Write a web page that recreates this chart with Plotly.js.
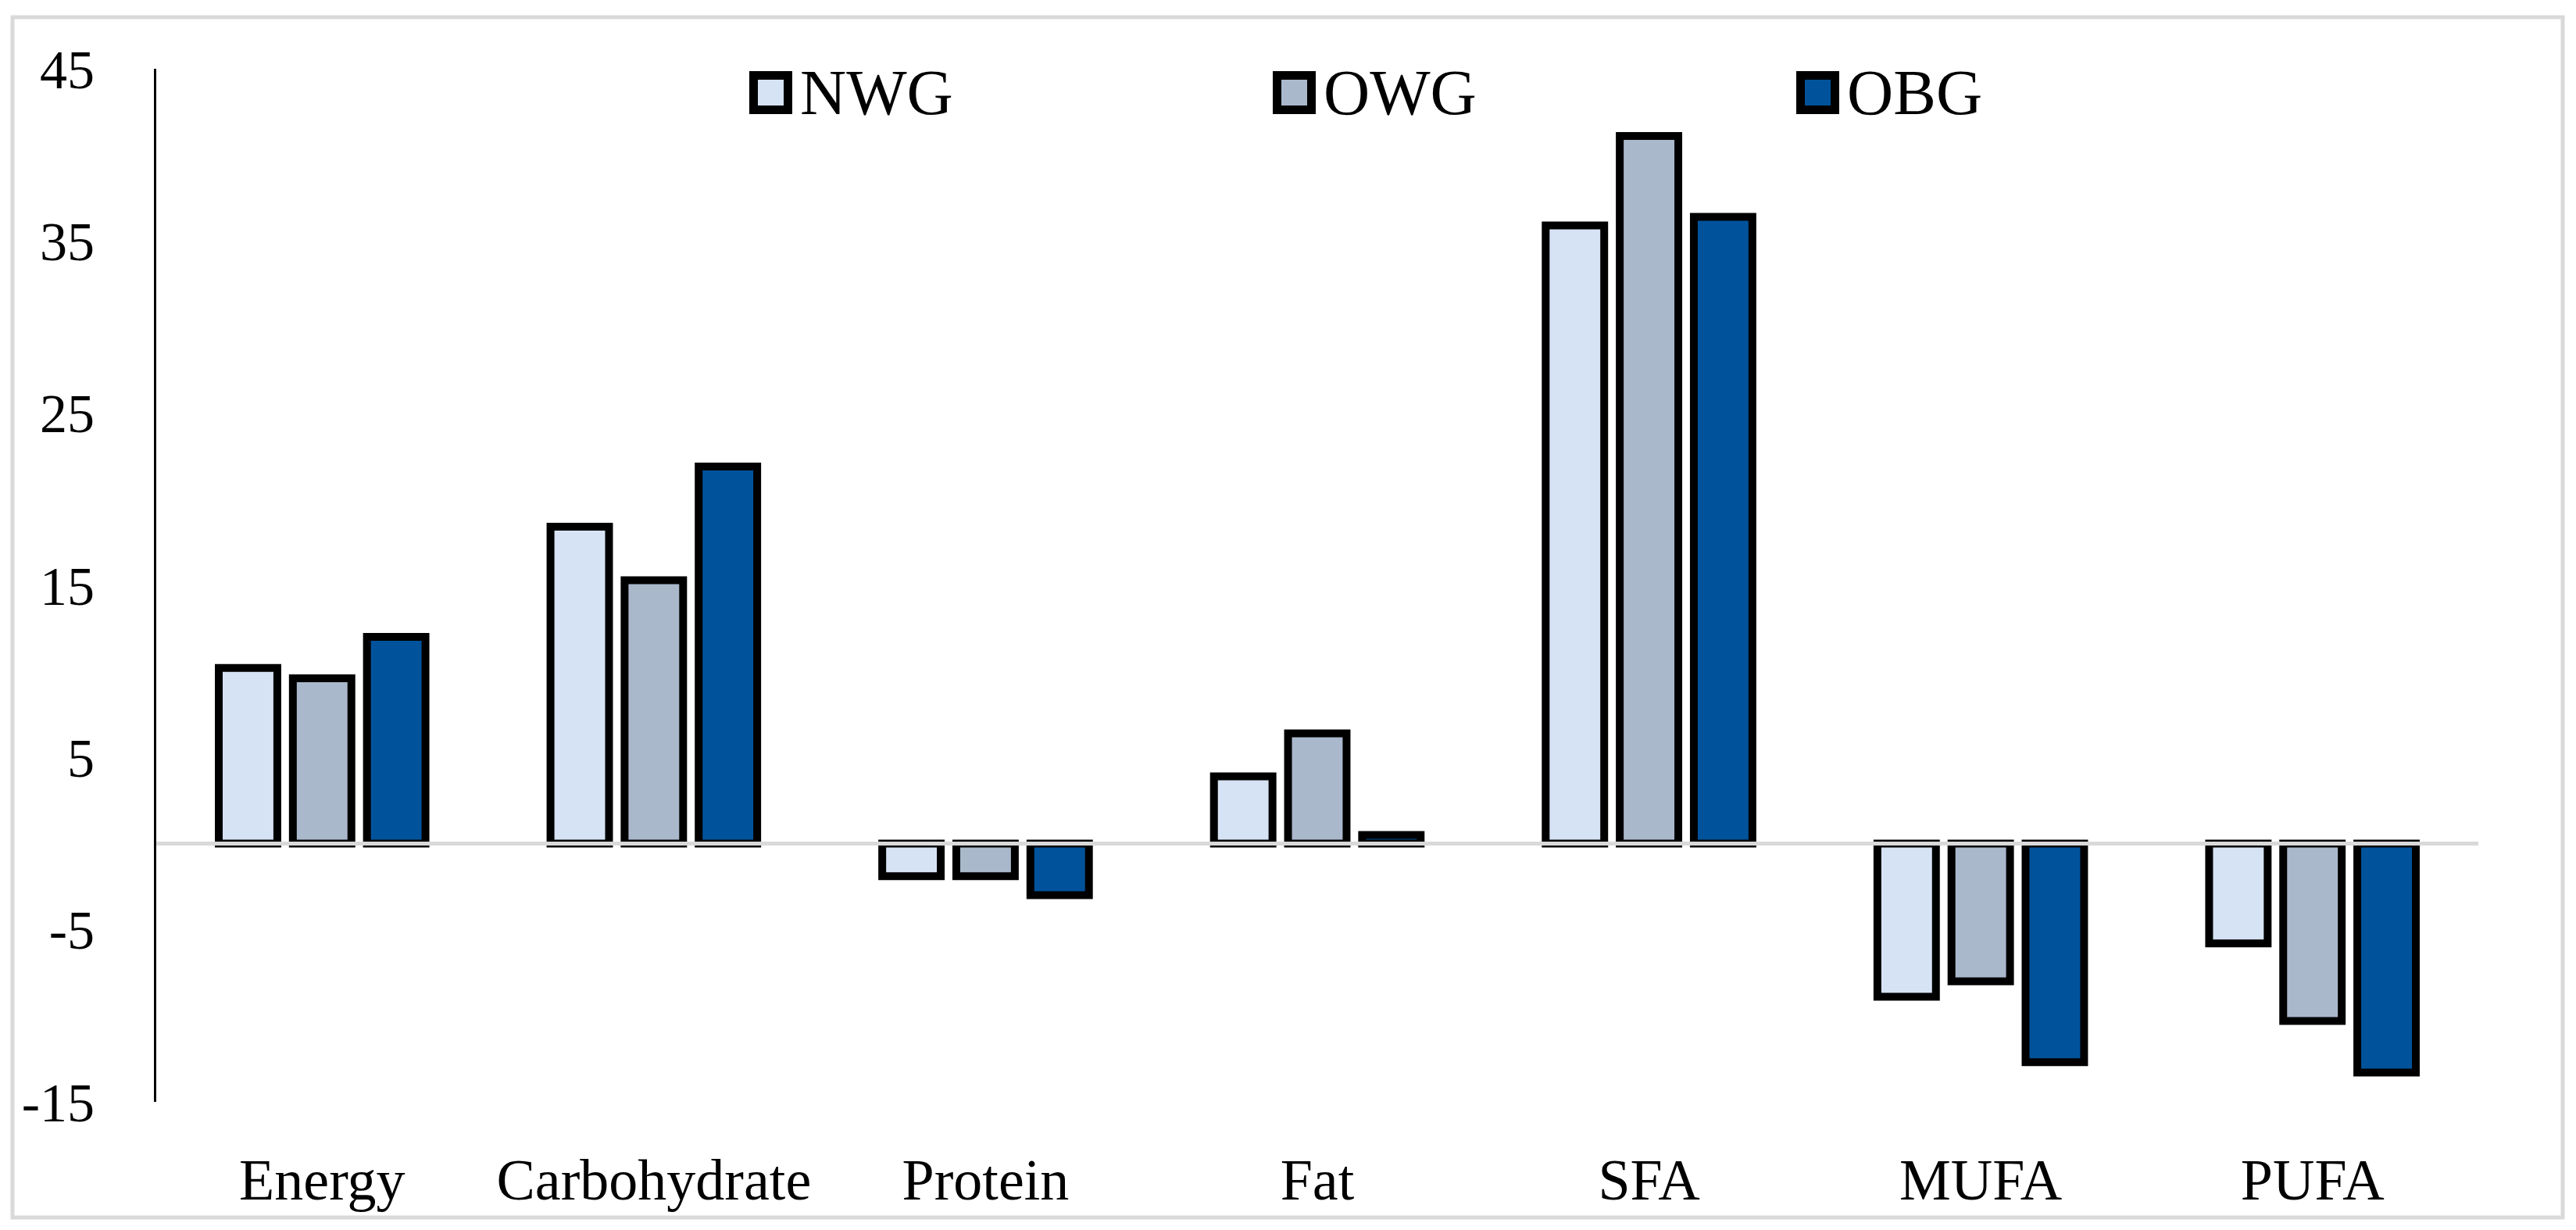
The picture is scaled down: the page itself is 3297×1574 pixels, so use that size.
<!DOCTYPE html>
<html>
<head>
<meta charset="utf-8">
<script src="https://cdn.plot.ly/plotly-3.0.1.min.js"></script>
<style>
  html, body { margin: 0; padding: 0; background: #ffffff; }
  #chart { width: 3297px; height: 1574px; }
</style>
</head>
<body>
<div id="chart"></div>
<script>
// ---- Data ----
const categories = ['Energy', 'Carbohydrate', 'Protein', 'Fat', 'SFA', 'MUFA', 'PUFA'];
const seriesNames = ['NWG', 'OWG', 'OBG'];
const nwgValues = [10.2, 18.4, -1.9, 3.9, 35.9, -8.9, -5.8];
const owgValues = [9.6, 15.3, -1.9, 6.4, 41.1, -8.0, -10.3];
const obgValues = [12.0, 21.9, -3.0, 0.5, 36.4, -12.7, -13.3];
const seriesColors = ['#D6E3F4', '#AAB8CC', '#00539B'];
const yTickValues = [-15, -5, 5, 15, 25, 35, 45];
const yTickLabels = ['-15', '-5', '5', '15', '25', '35', '45'];

// ---- Layout geometry (pixels) ----
const W = 3297, H = 1574;
const M = { l: 200, r: 125, t: 88, b: 164 };
const plotW = W - M.l - M.r, plotH = H - M.t - M.b;
const px2x = px => (px - M.l) / plotW;
const px2y = py => (H - M.b - py) / plotH;
const FONT = '"Liberation Serif", "Times New Roman", serif';

const seriesValues = [nwgValues, owgValues, obgValues];
const traces = seriesNames.map((name, i) => ({
  type: 'bar',
  name: name,
  x: categories,
  y: seriesValues[i],
  marker: { color: seriesColors[i], line: { color: '#000000', width: 10 } },
  hoverinfo: 'x+y+name'
}));

// custom legend (large boxed swatches like the original)
const legendStart = 959, legendStep = 670, boxSize = 55, boxTop = 91, lw = 11;
const shapes = [];
const annotations = [];
seriesNames.forEach((name, i) => {
  const x0 = legendStart + i * legendStep;
  shapes.push({
    type: 'rect', xref: 'paper', yref: 'paper',
    x0: px2x(x0 + lw / 2), x1: px2x(x0 + boxSize - lw / 2),
    y0: px2y(boxTop + boxSize - lw / 2), y1: px2y(boxTop + lw / 2),
    line: { color: '#000000', width: lw },
    fillcolor: seriesColors[i], layer: 'above'
  });
  annotations.push({
    xref: 'paper', yref: 'paper',
    x: px2x(x0 + boxSize + 8), y: px2y(boxTop + boxSize / 2),
    xanchor: 'left', yanchor: 'middle',
    text: name, showarrow: false,
    font: { family: FONT, size: 82, color: '#000000' }
  });
});
// chart-area frame
shapes.push({
  type: 'rect', xref: 'paper', yref: 'paper',
  x0: px2x(16), x1: px2x(3280), y0: px2y(1558), y1: px2y(22),
  line: { color: '#D9D9D9', width: 5 }, fillcolor: 'rgba(0,0,0,0)', layer: 'below'
});

const layout = {
  width: W, height: H,
  margin: M,
  paper_bgcolor: '#ffffff', plot_bgcolor: '#ffffff',
  showlegend: false,
  barmode: 'group',
  bargap: 0.33,
  bargroupgap: 0.21,
  font: { family: FONT, color: '#000000' },
  xaxis: {
    type: 'category',
    showline: false, showgrid: false, zeroline: false,
    ticks: '',
    tickfont: { family: FONT, size: 74, color: '#000000' },
    ticklabelstandoff: 50
  },
  yaxis: {
    range: [-15, 45],
    tickmode: 'array', tickvals: yTickValues, ticktext: yTickLabels,
    showline: true, linecolor: '#000000', linewidth: 3,
    showgrid: false,
    zeroline: true, zerolinecolor: '#D9D9D9', zerolinewidth: 5,
    zerolinelayer: 'above traces',
    ticks: '',
    tickfont: { family: FONT, size: 70, color: '#000000' },
    ticklabelstandoff: 62
  },
  shapes: shapes,
  annotations: annotations
};

Plotly.newPlot('chart', traces, layout, { displayModeBar: false, responsive: false });
</script>
</body>
</html>
